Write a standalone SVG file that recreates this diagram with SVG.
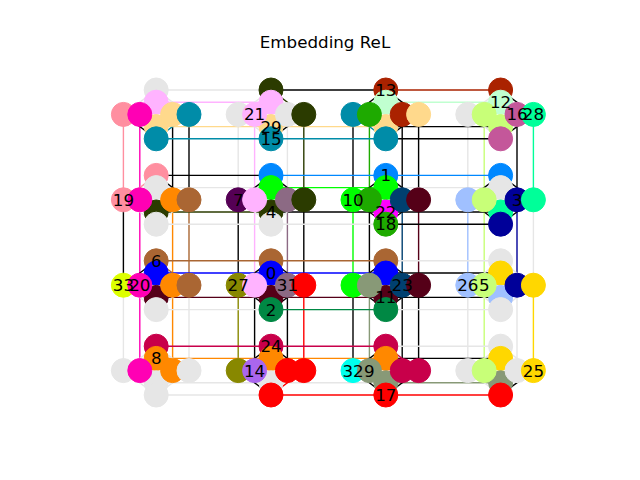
<svg xmlns="http://www.w3.org/2000/svg" width="640" height="480" viewBox="0 0 640 480">
<style>
line{stroke-width:1.4;fill:none}
circle{stroke:none}
text{font-family:"DejaVu Sans","Liberation Sans",sans-serif;fill:#000}
.lab{font-size:16.7px;text-anchor:middle}
.title{font-size:16.7px;text-anchor:middle}
.u{fill:#e6e6e6;stroke:#e6e6e6}
.k{stroke:#000}
.c0{fill:#0000ff;stroke:#0000ff}
.c1{fill:#0088ff;stroke:#0088ff}
.c2{fill:#008844;stroke:#008844}
.c3{fill:#000099;stroke:#000099}
.c4{fill:#2b3b00;stroke:#2b3b00}
.c5{fill:#c8ff78;stroke:#c8ff78}
.c6{fill:#aa6633;stroke:#aa6633}
.c7{fill:#550055;stroke:#550055}
.c8{fill:#ff8800;stroke:#ff8800}
.c9{fill:#889977;stroke:#889977}
.c10{fill:#00ff00;stroke:#00ff00}
.c11{fill:#550018;stroke:#550018}
.c12{fill:#c0ffd0;stroke:#c0ffd0}
.c13{fill:#aa2200;stroke:#aa2200}
.c14{fill:#aa66ee;stroke:#aa66ee}
.c15{fill:#008ca8;stroke:#008ca8}
.c16{fill:#c4579a;stroke:#c4579a}
.c17{fill:#ff0000;stroke:#ff0000}
.c18{fill:#1eaa00;stroke:#1eaa00}
.c19{fill:#ff8fa0;stroke:#ff8fa0}
.c20{fill:#ff00b4;stroke:#ff00b4}
.c21{fill:#ffb3ff;stroke:#ffb3ff}
.c22{fill:#ff00ff;stroke:#ff00ff}
.c23{fill:#004070;stroke:#004070}
.c24{fill:#c8004a;stroke:#c8004a}
.c25{fill:#ffd700;stroke:#ffd700}
.c26{fill:#a0c0ff;stroke:#a0c0ff}
.c27{fill:#888800;stroke:#888800}
.c28{fill:#00ff99;stroke:#00ff99}
.c29{fill:#ffd98c;stroke:#ffd98c}
.c31{fill:#8c6a84;stroke:#8c6a84}
.c32{fill:#00ffee;stroke:#00ffee}
.c33{fill:#ddff00;stroke:#ddff00}
</style>
<rect width="640" height="480" fill="#fff"/>
<text class="title" x="325" y="48">Embedding ReL</text>
<g id="connectors">
<line class="c19" x1="123.4" y1="114.4" x2="123.4" y2="199.8"/>
<line class="k" x1="123.4" y1="199.8" x2="123.4" y2="285.2"/>
<line class="u" x1="123.4" y1="285.2" x2="123.4" y2="370.6"/>
<line class="c20" x1="139.8" y1="114.4" x2="139.8" y2="199.8"/>
<line class="c20" x1="139.8" y1="199.8" x2="139.8" y2="285.2"/>
<line class="c20" x1="139.8" y1="285.2" x2="139.8" y2="370.6"/>
<line class="k" x1="172.6" y1="114.4" x2="172.6" y2="199.8"/>
<line class="c8" x1="172.6" y1="199.8" x2="172.6" y2="285.2"/>
<line class="c8" x1="172.6" y1="285.2" x2="172.6" y2="370.6"/>
<line class="k" x1="189" y1="114.4" x2="189" y2="199.8"/>
<line class="c6" x1="189" y1="199.8" x2="189" y2="285.2"/>
<line class="u" x1="189" y1="285.2" x2="189" y2="370.6"/>
<line class="u" x1="238.2" y1="114.4" x2="238.2" y2="199.8"/>
<line class="k" x1="238.2" y1="199.8" x2="238.2" y2="285.2"/>
<line class="c27" x1="238.2" y1="285.2" x2="238.2" y2="370.6"/>
<line class="c21" x1="254.6" y1="114.4" x2="254.6" y2="199.8"/>
<line class="c21" x1="254.6" y1="199.8" x2="254.6" y2="285.2"/>
<line class="k" x1="254.6" y1="285.2" x2="254.6" y2="370.6"/>
<line class="u" x1="287.4" y1="114.4" x2="287.4" y2="199.8"/>
<line class="c31" x1="287.4" y1="199.8" x2="287.4" y2="285.2"/>
<line class="k" x1="287.4" y1="285.2" x2="287.4" y2="370.6"/>
<line class="c4" x1="303.8" y1="114.4" x2="303.8" y2="199.8"/>
<line class="k" x1="303.8" y1="199.8" x2="303.8" y2="285.2"/>
<line class="c17" x1="303.8" y1="285.2" x2="303.8" y2="370.6"/>
<line class="k" x1="353" y1="114.4" x2="353" y2="199.8"/>
<line class="c10" x1="353" y1="199.8" x2="353" y2="285.2"/>
<line class="k" x1="353" y1="285.2" x2="353" y2="370.6"/>
<line class="c18" x1="369.4" y1="114.4" x2="369.4" y2="199.8"/>
<line class="k" x1="369.4" y1="199.8" x2="369.4" y2="285.2"/>
<line class="c9" x1="369.4" y1="285.2" x2="369.4" y2="370.6"/>
<line class="k" x1="402.2" y1="114.4" x2="402.2" y2="199.8"/>
<line class="c23" x1="402.2" y1="199.8" x2="402.2" y2="285.2"/>
<line class="k" x1="402.2" y1="285.2" x2="402.2" y2="370.6"/>
<line class="k" x1="418.6" y1="114.4" x2="418.6" y2="199.8"/>
<line class="c11" x1="418.6" y1="199.8" x2="418.6" y2="285.2"/>
<line class="k" x1="418.6" y1="285.2" x2="418.6" y2="370.6"/>
<line class="u" x1="467.8" y1="114.4" x2="467.8" y2="199.8"/>
<line class="c26" x1="467.8" y1="199.8" x2="467.8" y2="285.2"/>
<line class="u" x1="467.8" y1="285.2" x2="467.8" y2="370.6"/>
<line class="c5" x1="484.2" y1="114.4" x2="484.2" y2="199.8"/>
<line class="c5" x1="484.2" y1="199.8" x2="484.2" y2="285.2"/>
<line class="c5" x1="484.2" y1="285.2" x2="484.2" y2="370.6"/>
<line class="k" x1="517" y1="114.4" x2="517" y2="199.8"/>
<line class="c3" x1="517" y1="199.8" x2="517" y2="285.2"/>
<line class="u" x1="517" y1="285.2" x2="517" y2="370.6"/>
<line class="c28" x1="533.4" y1="114.4" x2="533.4" y2="199.8"/>
<line class="u" x1="533.4" y1="199.8" x2="533.4" y2="285.2"/>
<line class="c25" x1="533.4" y1="285.2" x2="533.4" y2="370.6"/>
<line class="u" x1="156.2" y1="90" x2="271" y2="90"/>
<line class="k" x1="271" y1="90" x2="385.8" y2="90"/>
<line class="c13" x1="385.8" y1="90" x2="500.6" y2="90"/>
<line class="c21" x1="156.2" y1="102.2" x2="271" y2="102.2"/>
<line class="c12" x1="385.8" y1="102.2" x2="500.6" y2="102.2"/>
<line class="c29" x1="156.2" y1="126.6" x2="271" y2="126.6"/>
<line class="c29" x1="271" y1="126.6" x2="385.8" y2="126.6"/>
<line class="k" x1="385.8" y1="126.6" x2="500.6" y2="126.6"/>
<line class="c15" x1="156.2" y1="138.8" x2="271" y2="138.8"/>
<line class="c15" x1="271" y1="138.8" x2="385.8" y2="138.8"/>
<line class="k" x1="385.8" y1="138.8" x2="500.6" y2="138.8"/>
<line class="k" x1="156.2" y1="175.4" x2="271" y2="175.4"/>
<line class="c1" x1="271" y1="175.4" x2="385.8" y2="175.4"/>
<line class="c1" x1="385.8" y1="175.4" x2="500.6" y2="175.4"/>
<line class="u" x1="156.2" y1="187.6" x2="271" y2="187.6"/>
<line class="c10" x1="271" y1="187.6" x2="385.8" y2="187.6"/>
<line class="u" x1="385.8" y1="187.6" x2="500.6" y2="187.6"/>
<line class="c4" x1="156.2" y1="212" x2="271" y2="212"/>
<line class="k" x1="271" y1="212" x2="385.8" y2="212"/>
<line class="k" x1="385.8" y1="212" x2="500.6" y2="212"/>
<line class="u" x1="156.2" y1="224.2" x2="271" y2="224.2"/>
<line class="u" x1="271" y1="224.2" x2="385.8" y2="224.2"/>
<line class="k" x1="385.8" y1="224.2" x2="500.6" y2="224.2"/>
<line class="c6" x1="156.2" y1="260.8" x2="271" y2="260.8"/>
<line class="c6" x1="271" y1="260.8" x2="385.8" y2="260.8"/>
<line class="u" x1="385.8" y1="260.8" x2="500.6" y2="260.8"/>
<line class="c0" x1="156.2" y1="273" x2="271" y2="273"/>
<line class="c0" x1="271" y1="273" x2="385.8" y2="273"/>
<line class="k" x1="385.8" y1="273" x2="500.6" y2="273"/>
<line class="c11" x1="156.2" y1="297.4" x2="271" y2="297.4"/>
<line class="c11" x1="271" y1="297.4" x2="385.8" y2="297.4"/>
<line class="k" x1="385.8" y1="297.4" x2="500.6" y2="297.4"/>
<line class="u" x1="156.2" y1="309.6" x2="271" y2="309.6"/>
<line class="c2" x1="271" y1="309.6" x2="385.8" y2="309.6"/>
<line class="u" x1="385.8" y1="309.6" x2="500.6" y2="309.6"/>
<line class="c24" x1="156.2" y1="346.2" x2="271" y2="346.2"/>
<line class="c24" x1="271" y1="346.2" x2="385.8" y2="346.2"/>
<line class="u" x1="385.8" y1="346.2" x2="500.6" y2="346.2"/>
<line class="c8" x1="156.2" y1="358.4" x2="271" y2="358.4"/>
<line class="c8" x1="271" y1="358.4" x2="385.8" y2="358.4"/>
<line class="k" x1="385.8" y1="358.4" x2="500.6" y2="358.4"/>
<line class="u" x1="156.2" y1="382.8" x2="271" y2="382.8"/>
<line class="u" x1="271" y1="382.8" x2="385.8" y2="382.8"/>
<line class="c9" x1="385.8" y1="382.8" x2="500.6" y2="382.8"/>
<line class="u" x1="156.2" y1="395" x2="271" y2="395"/>
<line class="c17" x1="271" y1="395" x2="385.8" y2="395"/>
<line class="c17" x1="385.8" y1="395" x2="500.6" y2="395"/>
<line class="u" x1="156.2" y1="90" x2="123.4" y2="114.4"/>
<line class="u" x1="156.2" y1="90" x2="189" y2="114.4"/>
<line class="k" x1="156.2" y1="138.8" x2="123.4" y2="114.4"/>
<line class="c15" x1="156.2" y1="138.8" x2="189" y2="114.4"/>
<line class="u" x1="271" y1="90" x2="238.2" y2="114.4"/>
<line class="c4" x1="271" y1="90" x2="303.8" y2="114.4"/>
<line class="u" x1="271" y1="138.8" x2="238.2" y2="114.4"/>
<line class="k" x1="271" y1="138.8" x2="303.8" y2="114.4"/>
<line class="k" x1="385.8" y1="90" x2="353" y2="114.4"/>
<line class="k" x1="385.8" y1="90" x2="418.6" y2="114.4"/>
<line class="c15" x1="385.8" y1="138.8" x2="353" y2="114.4"/>
<line class="k" x1="385.8" y1="138.8" x2="418.6" y2="114.4"/>
<line class="u" x1="500.6" y1="90" x2="467.8" y2="114.4"/>
<line class="k" x1="500.6" y1="90" x2="533.4" y2="114.4"/>
<line class="u" x1="500.6" y1="138.8" x2="467.8" y2="114.4"/>
<line class="k" x1="500.6" y1="138.8" x2="533.4" y2="114.4"/>
<line class="c19" x1="156.2" y1="175.4" x2="123.4" y2="199.8"/>
<line class="k" x1="156.2" y1="175.4" x2="189" y2="199.8"/>
<line class="u" x1="156.2" y1="224.2" x2="123.4" y2="199.8"/>
<line class="u" x1="156.2" y1="224.2" x2="189" y2="199.8"/>
<line class="k" x1="271" y1="175.4" x2="238.2" y2="199.8"/>
<line class="k" x1="271" y1="175.4" x2="303.8" y2="199.8"/>
<line class="u" x1="271" y1="224.2" x2="238.2" y2="199.8"/>
<line class="u" x1="271" y1="224.2" x2="303.8" y2="199.8"/>
<line class="k" x1="385.8" y1="175.4" x2="353" y2="199.8"/>
<line class="k" x1="385.8" y1="175.4" x2="418.6" y2="199.8"/>
<line class="k" x1="385.8" y1="224.2" x2="353" y2="199.8"/>
<line class="k" x1="385.8" y1="224.2" x2="418.6" y2="199.8"/>
<line class="k" x1="500.6" y1="175.4" x2="467.8" y2="199.8"/>
<line class="k" x1="500.6" y1="175.4" x2="533.4" y2="199.8"/>
<line class="k" x1="500.6" y1="224.2" x2="467.8" y2="199.8"/>
<line class="k" x1="500.6" y1="224.2" x2="533.4" y2="199.8"/>
<line class="k" x1="156.2" y1="260.8" x2="123.4" y2="285.2"/>
<line class="c6" x1="156.2" y1="260.8" x2="189" y2="285.2"/>
<line class="u" x1="156.2" y1="309.6" x2="123.4" y2="285.2"/>
<line class="u" x1="156.2" y1="309.6" x2="189" y2="285.2"/>
<line class="k" x1="271" y1="260.8" x2="238.2" y2="285.2"/>
<line class="k" x1="271" y1="260.8" x2="303.8" y2="285.2"/>
<line class="k" x1="271" y1="309.6" x2="238.2" y2="285.2"/>
<line class="k" x1="271" y1="309.6" x2="303.8" y2="285.2"/>
<line class="k" x1="385.8" y1="260.8" x2="353" y2="285.2"/>
<line class="k" x1="385.8" y1="260.8" x2="418.6" y2="285.2"/>
<line class="k" x1="385.8" y1="309.6" x2="353" y2="285.2"/>
<line class="k" x1="385.8" y1="309.6" x2="418.6" y2="285.2"/>
<line class="u" x1="500.6" y1="260.8" x2="467.8" y2="285.2"/>
<line class="u" x1="500.6" y1="260.8" x2="533.4" y2="285.2"/>
<line class="u" x1="500.6" y1="309.6" x2="467.8" y2="285.2"/>
<line class="u" x1="500.6" y1="309.6" x2="533.4" y2="285.2"/>
<line class="u" x1="156.2" y1="346.2" x2="123.4" y2="370.6"/>
<line class="u" x1="156.2" y1="346.2" x2="189" y2="370.6"/>
<line class="u" x1="156.2" y1="395" x2="123.4" y2="370.6"/>
<line class="u" x1="156.2" y1="395" x2="189" y2="370.6"/>
<line class="k" x1="271" y1="346.2" x2="238.2" y2="370.6"/>
<line class="k" x1="271" y1="346.2" x2="303.8" y2="370.6"/>
<line class="k" x1="271" y1="395" x2="238.2" y2="370.6"/>
<line class="c17" x1="271" y1="395" x2="303.8" y2="370.6"/>
<line class="k" x1="385.8" y1="346.2" x2="353" y2="370.6"/>
<line class="c24" x1="385.8" y1="346.2" x2="418.6" y2="370.6"/>
<line class="k" x1="385.8" y1="395" x2="353" y2="370.6"/>
<line class="k" x1="385.8" y1="395" x2="418.6" y2="370.6"/>
<line class="u" x1="500.6" y1="346.2" x2="467.8" y2="370.6"/>
<line class="u" x1="500.6" y1="346.2" x2="533.4" y2="370.6"/>
<line class="u" x1="500.6" y1="395" x2="467.8" y2="370.6"/>
<line class="k" x1="500.6" y1="395" x2="533.4" y2="370.6"/>
</g>
<g id="nodes">
<g id="n00v0"><circle class="u" cx="156.2" cy="90" r="12"/></g>
<g id="n00v1"><circle class="c21" cx="156.2" cy="102.2" r="12"/></g>
<g id="n00v2"><circle class="c29" cx="156.2" cy="126.6" r="12"/></g>
<g id="n00v3"><circle class="c15" cx="156.2" cy="138.8" r="12"/></g>
<g id="n00h0"><circle class="c19" cx="123.4" cy="114.4" r="12"/></g>
<g id="n00h1"><circle class="c20" cx="139.8" cy="114.4" r="12"/></g>
<g id="n00h2"><circle class="c29" cx="172.6" cy="114.4" r="12"/></g>
<g id="n00h3"><circle class="c15" cx="189" cy="114.4" r="12"/></g>
<g id="n01v0"><circle class="c4" cx="271" cy="90" r="12"/></g>
<g id="n01v1"><circle class="c21" cx="271" cy="102.2" r="12"/></g>
<g id="n01v2"><circle class="c29" cx="271" cy="126.6" r="12"/></g>
<g id="n01v3"><circle class="c15" cx="271" cy="138.8" r="12"/></g>
<g id="n01h0"><circle class="u" cx="238.2" cy="114.4" r="12"/></g>
<g id="n01h1"><circle class="c21" cx="254.6" cy="114.4" r="12"/></g>
<g id="n01h2"><circle class="u" cx="287.4" cy="114.4" r="12"/></g>
<g id="n01h3"><circle class="c4" cx="303.8" cy="114.4" r="12"/></g>
<g id="n02v0"><circle class="c13" cx="385.8" cy="90" r="12"/></g>
<g id="n02v1"><circle class="c12" cx="385.8" cy="102.2" r="12"/></g>
<g id="n02v2"><circle class="c29" cx="385.8" cy="126.6" r="12"/></g>
<g id="n02v3"><circle class="c15" cx="385.8" cy="138.8" r="12"/></g>
<g id="n02h0"><circle class="c15" cx="353" cy="114.4" r="12"/></g>
<g id="n02h1"><circle class="c18" cx="369.4" cy="114.4" r="12"/></g>
<g id="n02h2"><circle class="c13" cx="402.2" cy="114.4" r="12"/></g>
<g id="n02h3"><circle class="c29" cx="418.6" cy="114.4" r="12"/></g>
<g id="n03v0"><circle class="c13" cx="500.6" cy="90" r="12"/></g>
<g id="n03v1"><circle class="c12" cx="500.6" cy="102.2" r="12"/></g>
<g id="n03v2"><circle class="c5" cx="500.6" cy="126.6" r="12"/></g>
<g id="n03v3"><circle class="c16" cx="500.6" cy="138.8" r="12"/></g>
<g id="n03h0"><circle class="u" cx="467.8" cy="114.4" r="12"/></g>
<g id="n03h1"><circle class="c5" cx="484.2" cy="114.4" r="12"/></g>
<g id="n03h2"><circle class="c16" cx="517" cy="114.4" r="12"/></g>
<g id="n03h3"><circle class="c28" cx="533.4" cy="114.4" r="12"/></g>
<g id="n10v0"><circle class="c19" cx="156.2" cy="175.4" r="12"/></g>
<g id="n10v1"><circle class="u" cx="156.2" cy="187.6" r="12"/></g>
<g id="n10v2"><circle class="c4" cx="156.2" cy="212" r="12"/></g>
<g id="n10v3"><circle class="u" cx="156.2" cy="224.2" r="12"/></g>
<g id="n10h0"><circle class="c19" cx="123.4" cy="199.8" r="12"/></g>
<g id="n10h1"><circle class="c20" cx="139.8" cy="199.8" r="12"/></g>
<g id="n10h2"><circle class="c8" cx="172.6" cy="199.8" r="12"/></g>
<g id="n10h3"><circle class="c6" cx="189" cy="199.8" r="12"/></g>
<g id="n11v0"><circle class="c1" cx="271" cy="175.4" r="12"/></g>
<g id="n11v1"><circle class="c10" cx="271" cy="187.6" r="12"/></g>
<g id="n11v2"><circle class="c4" cx="271" cy="212" r="12"/></g>
<g id="n11v3"><circle class="u" cx="271" cy="224.2" r="12"/></g>
<g id="n11h0"><circle class="c7" cx="238.2" cy="199.8" r="12"/></g>
<g id="n11h1"><circle class="c21" cx="254.6" cy="199.8" r="12"/></g>
<g id="n11h2"><circle class="c31" cx="287.4" cy="199.8" r="12"/></g>
<g id="n11h3"><circle class="c4" cx="303.8" cy="199.8" r="12"/></g>
<g id="n12v0"><circle class="c1" cx="385.8" cy="175.4" r="12"/></g>
<g id="n12v1"><circle class="c10" cx="385.8" cy="187.6" r="12"/></g>
<g id="n12v2"><circle class="c22" cx="385.8" cy="212" r="12"/></g>
<g id="n12v3"><circle class="c18" cx="385.8" cy="224.2" r="12"/></g>
<g id="n12h0"><circle class="c10" cx="353" cy="199.8" r="12"/></g>
<g id="n12h1"><circle class="c18" cx="369.4" cy="199.8" r="12"/></g>
<g id="n12h2"><circle class="c23" cx="402.2" cy="199.8" r="12"/></g>
<g id="n12h3"><circle class="c11" cx="418.6" cy="199.8" r="12"/></g>
<g id="n13v0"><circle class="c1" cx="500.6" cy="175.4" r="12"/></g>
<g id="n13v1"><circle class="u" cx="500.6" cy="187.6" r="12"/></g>
<g id="n13v2"><circle class="c28" cx="500.6" cy="212" r="12"/></g>
<g id="n13v3"><circle class="c3" cx="500.6" cy="224.2" r="12"/></g>
<g id="n13h0"><circle class="c26" cx="467.8" cy="199.8" r="12"/></g>
<g id="n13h1"><circle class="c5" cx="484.2" cy="199.8" r="12"/></g>
<g id="n13h2"><circle class="c3" cx="517" cy="199.8" r="12"/></g>
<g id="n13h3"><circle class="c28" cx="533.4" cy="199.8" r="12"/></g>
<g id="n20v0"><circle class="c6" cx="156.2" cy="260.8" r="12"/></g>
<g id="n20v1"><circle class="c0" cx="156.2" cy="273" r="12"/></g>
<g id="n20v2"><circle class="c11" cx="156.2" cy="297.4" r="12"/></g>
<g id="n20v3"><circle class="u" cx="156.2" cy="309.6" r="12"/></g>
<g id="n20h0"><circle class="c33" cx="123.4" cy="285.2" r="12"/></g>
<g id="n20h1"><circle class="c20" cx="139.8" cy="285.2" r="12"/></g>
<g id="n20h2"><circle class="c8" cx="172.6" cy="285.2" r="12"/></g>
<g id="n20h3"><circle class="c6" cx="189" cy="285.2" r="12"/></g>
<g id="n21v0"><circle class="c6" cx="271" cy="260.8" r="12"/></g>
<g id="n21v1"><circle class="c0" cx="271" cy="273" r="12"/></g>
<g id="n21v2"><circle class="c11" cx="271" cy="297.4" r="12"/></g>
<g id="n21v3"><circle class="c2" cx="271" cy="309.6" r="12"/></g>
<g id="n21h0"><circle class="c27" cx="238.2" cy="285.2" r="12"/></g>
<g id="n21h1"><circle class="c21" cx="254.6" cy="285.2" r="12"/></g>
<g id="n21h2"><circle class="c31" cx="287.4" cy="285.2" r="12"/></g>
<g id="n21h3"><circle class="c17" cx="303.8" cy="285.2" r="12"/></g>
<g id="n22v0"><circle class="c6" cx="385.8" cy="260.8" r="12"/></g>
<g id="n22v1"><circle class="c0" cx="385.8" cy="273" r="12"/></g>
<g id="n22v2"><circle class="c11" cx="385.8" cy="297.4" r="12"/></g>
<g id="n22v3"><circle class="c2" cx="385.8" cy="309.6" r="12"/></g>
<g id="n22h0"><circle class="c10" cx="353" cy="285.2" r="12"/></g>
<g id="n22h1"><circle class="c9" cx="369.4" cy="285.2" r="12"/></g>
<g id="n22h2"><circle class="c23" cx="402.2" cy="285.2" r="12"/></g>
<g id="n22h3"><circle class="c11" cx="418.6" cy="285.2" r="12"/></g>
<g id="n23v0"><circle class="u" cx="500.6" cy="260.8" r="12"/></g>
<g id="n23v1"><circle class="c25" cx="500.6" cy="273" r="12"/></g>
<g id="n23v2"><circle class="c26" cx="500.6" cy="297.4" r="12"/></g>
<g id="n23v3"><circle class="u" cx="500.6" cy="309.6" r="12"/></g>
<g id="n23h0"><circle class="c26" cx="467.8" cy="285.2" r="12"/></g>
<g id="n23h1"><circle class="c5" cx="484.2" cy="285.2" r="12"/></g>
<g id="n23h2"><circle class="c3" cx="517" cy="285.2" r="12"/></g>
<g id="n23h3"><circle class="c25" cx="533.4" cy="285.2" r="12"/></g>
<g id="n30v0"><circle class="c24" cx="156.2" cy="346.2" r="12"/></g>
<g id="n30v1"><circle class="c8" cx="156.2" cy="358.4" r="12"/></g>
<g id="n30v2"><circle class="u" cx="156.2" cy="382.8" r="12"/></g>
<g id="n30v3"><circle class="u" cx="156.2" cy="395" r="12"/></g>
<g id="n30h0"><circle class="u" cx="123.4" cy="370.6" r="12"/></g>
<g id="n30h1"><circle class="c20" cx="139.8" cy="370.6" r="12"/></g>
<g id="n30h2"><circle class="c8" cx="172.6" cy="370.6" r="12"/></g>
<g id="n30h3"><circle class="u" cx="189" cy="370.6" r="12"/></g>
<g id="n31v0"><circle class="c24" cx="271" cy="346.2" r="12"/></g>
<g id="n31v1"><circle class="c8" cx="271" cy="358.4" r="12"/></g>
<g id="n31v2"><circle class="u" cx="271" cy="382.8" r="12"/></g>
<g id="n31v3"><circle class="c17" cx="271" cy="395" r="12"/></g>
<g id="n31h0"><circle class="c27" cx="238.2" cy="370.6" r="12"/></g>
<g id="n31h1"><circle class="c14" cx="254.6" cy="370.6" r="12"/></g>
<g id="n31h2"><circle class="c17" cx="287.4" cy="370.6" r="12"/></g>
<g id="n31h3"><circle class="c17" cx="303.8" cy="370.6" r="12"/></g>
<g id="n32v0"><circle class="c24" cx="385.8" cy="346.2" r="12"/></g>
<g id="n32v1"><circle class="c8" cx="385.8" cy="358.4" r="12"/></g>
<g id="n32v2"><circle class="c9" cx="385.8" cy="382.8" r="12"/></g>
<g id="n32v3"><circle class="c17" cx="385.8" cy="395" r="12"/></g>
<g id="n32h0"><circle class="c32" cx="353" cy="370.6" r="12"/></g>
<g id="n32h1"><circle class="c9" cx="369.4" cy="370.6" r="12"/></g>
<g id="n32h2"><circle class="c24" cx="402.2" cy="370.6" r="12"/></g>
<g id="n32h3"><circle class="c24" cx="418.6" cy="370.6" r="12"/></g>
<g id="n33v0"><circle class="u" cx="500.6" cy="346.2" r="12"/></g>
<g id="n33v1"><circle class="c25" cx="500.6" cy="358.4" r="12"/></g>
<g id="n33v2"><circle class="c9" cx="500.6" cy="382.8" r="12"/></g>
<g id="n33v3"><circle class="c17" cx="500.6" cy="395" r="12"/></g>
<g id="n33h0"><circle class="u" cx="467.8" cy="370.6" r="12"/></g>
<g id="n33h1"><circle class="c5" cx="484.2" cy="370.6" r="12"/></g>
<g id="n33h2"><circle class="u" cx="517" cy="370.6" r="12"/></g>
<g id="n33h3"><circle class="c25" cx="533.4" cy="370.6" r="12"/></g>
</g>
<g id="labels" class="lab">
<text x="271" y="279">0</text>
<text x="385.8" y="181.4">1</text>
<text x="271" y="315.6">2</text>
<text x="517" y="205.8">3</text>
<text x="271" y="218">4</text>
<text x="484.2" y="291.2">5</text>
<text x="156.2" y="266.8">6</text>
<text x="238.2" y="205.8">7</text>
<text x="156.2" y="364.4">8</text>
<text x="369.4" y="376.6">9</text>
<text x="353" y="205.8">10</text>
<text x="385.8" y="303.4">11</text>
<text x="500.6" y="108.2">12</text>
<text x="385.8" y="96">13</text>
<text x="254.6" y="376.6">14</text>
<text x="271" y="144.8">15</text>
<text x="517" y="120.4">16</text>
<text x="385.8" y="401">17</text>
<text x="385.8" y="230.2">18</text>
<text x="123.4" y="205.8">19</text>
<text x="139.8" y="291.2">20</text>
<text x="254.6" y="120.4">21</text>
<text x="385.8" y="218">22</text>
<text x="402.2" y="291.2">23</text>
<text x="271" y="352.2">24</text>
<text x="533.4" y="376.6">25</text>
<text x="467.8" y="291.2">26</text>
<text x="238.2" y="291.2">27</text>
<text x="533.4" y="120.4">28</text>
<text x="271" y="132.6">29</text>
<text x="287.4" y="291.2">31</text>
<text x="353" y="376.6">32</text>
<text x="123.4" y="291.2">33</text>
</g>
</svg>
